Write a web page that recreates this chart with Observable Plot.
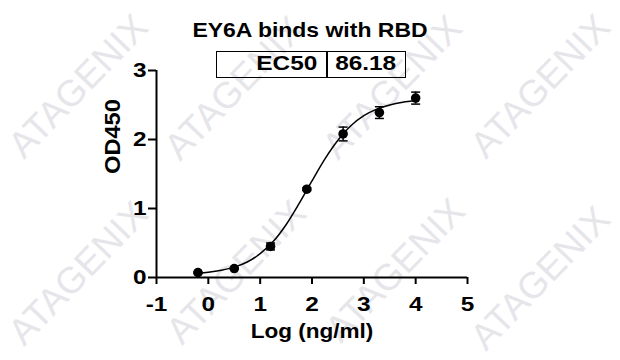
<!DOCTYPE html>
<html>
<head>
<meta charset="utf-8">
<script src="https://cdn.jsdelivr.net/npm/d3@7"></script>
<script src="https://cdn.jsdelivr.net/npm/@observablehq/plot@0.6"></script>
<style>
  html, body { margin: 0; padding: 0; background: #fff; }
  #wrap { position: relative; width: 620px; height: 360px; overflow: hidden; font-family: "Liberation Sans", Arial, sans-serif; }
  #wm { position: absolute; left: 0; top: 0; width: 620px; height: 360px; }
  .wm { position: absolute; font-size: 37px; color: #e6e6ea; white-space: nowrap; transform: translate(-50%, -50%) rotate(-46deg); line-height: 1; }
  #chart { position: absolute; left: 0; top: 0; }
  .title { position: absolute; left: 0; width: 620px; text-align: center; top: 18.4px; }
  .title span { display: inline-block; font-weight: bold; font-size: 20.5px; transform: scaleX(1.12); margin-left: -1px; }
  .box { position: absolute; left: 216px; top: 51px; width: 190px; height: 26.5px; border: 1.5px solid #000; box-sizing: border-box; }
  .divider { position: absolute; left: 326px; top: 51px; width: 1.5px; height: 26.5px; background: #000; }
  .cell { position: absolute; font-weight: bold; font-size: 20.5px; top: 50.7px; white-space: nowrap; }
  .cell span { display: inline-block; transform: scaleX(1.19); }
</style>
</head>
<body>
<div id="wrap">
  <div id="wm"></div>
  <div id="chart"></div>
  <div class="title"><span id="title"></span></div>
  <div class="box"></div>
  <div class="divider"></div>
  <div class="cell" style="right: 303px; text-align: right;"><span id="k" style="transform-origin: right center;"></span></div>
  <div class="cell" style="left: 327px; width: 78px; text-align: center;"><span id="v"></span></div>
</div>
<script>
// ---- data ----
const titleText = "EY6A binds with RBD";
const tableKey = "EC50";
const tableValue = "86.18";
const xLabel = "Log (ng/ml)";
const yLabel = "OD450";
const xTicks = [-1, 0, 1, 2, 3, 4, 5];
const yTicks = [0, 1, 2, 3];
const logConc = [-0.2, 0.5, 1.2, 1.9, 2.6, 3.3, 4.0];
const od450 = [0.07, 0.13, 0.45, 1.28, 2.08, 2.39, 2.60];
const sem = [0.01, 0.01, 0.05, 0.02, 0.10, 0.085, 0.087];
const curveX = [-0.2, 0, 0.25, 0.5, 0.75, 1, 1.25, 1.5, 1.75, 2, 2.25, 2.5, 2.75, 3, 3.25, 3.5, 3.75, 4];
const curveY = [0.06, 0.075, 0.105, 0.15, 0.225, 0.345, 0.52, 0.765, 1.07, 1.40, 1.72, 1.99, 2.20, 2.345, 2.44, 2.50, 2.54, 2.565];
const watermark = "ATAGENIX";
const wmCenters = [[78, 86], [234, 88], [392, 87], [540, 86], [78, 273], [236, 272], [395, 270], [540, 278]];

// ---- build ----
document.getElementById("title").textContent = titleText;
document.getElementById("k").textContent = tableKey;
document.getElementById("v").textContent = tableValue;
const wm = document.getElementById("wm");
for (const [cx, cy] of wmCenters) {
  const d = document.createElement("div");
  d.className = "wm";
  d.style.left = cx + "px";
  d.style.top = cy + "px";
  d.textContent = watermark;
  wm.appendChild(d);
}

const points = logConc.map((x, i) => ({x, y: od450[i], lo: od450[i] - sem[i], hi: od450[i] + sem[i]}));
const curve = curveX.map((x, i) => ({x, y: curveY[i]}));
const hline = {draw(ctx, size) { const r = Math.sqrt(size / Math.PI); ctx.moveTo(-r, 0); ctx.lineTo(r, 0); }};
const intFmt = d => d < 0 ? "-" + Math.abs(d) : String(d);

const plot = Plot.plot({
  width: 620,
  height: 360,
  marginLeft: 156,
  marginRight: 153,
  marginTop: 70,
  marginBottom: 83,
  style: {background: "transparent", fontFamily: "'Liberation Sans', Arial, sans-serif", color: "#000"},
  x: {domain: [-1, 5]},
  y: {domain: [0, 3]},
  marks: [
    Plot.axisX({ticks: xTicks, tickFormat: intFmt, tickSize: 7, tickPadding: 12.5, fontSize: 19.5, fontWeight: "bold", strokeWidth: 2, label: null}),
    Plot.axisY({ticks: yTicks, tickFormat: intFmt, tickSize: 8, tickPadding: 2, fontSize: 19.5, fontWeight: "bold", strokeWidth: 2, label: null}),
    Plot.ruleY([0], {strokeWidth: 2}),
    Plot.ruleX([-1], {strokeWidth: 2}),
    Plot.line(curve, {x: "x", y: "y", curve: "catmull-rom", stroke: "#000", strokeWidth: 1.5}),
    Plot.ruleX(points, {x: "x", y1: "lo", y2: "hi", stroke: "#000", strokeWidth: 1.5}),
    Plot.dot(points, {x: "x", y: "lo", symbol: hline, r: 4.5, stroke: "#000", strokeWidth: 1.5}),
    Plot.dot(points, {x: "x", y: "hi", symbol: hline, r: 4.5, stroke: "#000", strokeWidth: 1.5}),
    Plot.dot(points, {x: "x", y: "y", r: 4.8, fill: "#000", stroke: null}),
    Plot.text([xLabel], {frameAnchor: "bottom", dy: 54, fontSize: 20.5, fontWeight: "bold", lineAnchor: "middle"}),
    Plot.text([yLabel], {frameAnchor: "left", rotate: -90, dx: -43, fontSize: 21.5, fontWeight: "bold", lineAnchor: "middle"})
  ]
});
document.getElementById("chart").appendChild(plot);

// widen glyphs horizontally (along the text direction) to match the reference's wide bold text
function stretch(el, s) {
  const xa = el.getAttribute("x");
  const ax = xa && /^-?[\d.]+$/.test(xa) ? +xa : 0;
  const t = el.getAttribute("transform") || "";
  el.setAttribute("transform", `${t} translate(${ax},0) scale(${s},1) translate(${-ax},0)`.trim());
}
plot.querySelectorAll('g[aria-label="x-axis tick label"] text, g[aria-label="y-axis tick label"] text').forEach(el => stretch(el, 1.25));
plot.querySelectorAll('g[aria-label="text"] text').forEach(el => stretch(el, 1.1));
</script>
</body>
</html>
